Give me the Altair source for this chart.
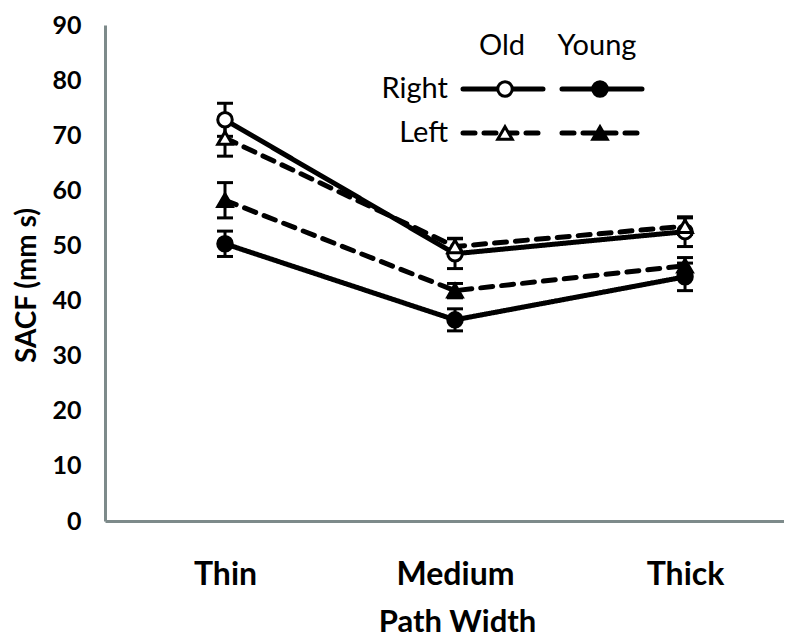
import altair as alt
import pandas as pd

paths = ["Thin", "Medium", "Thick"]
groups = ["Old", "Young"]
sides = ["Right", "Left"]

old_right = [72.8, 48.5, 52.5]
old_right_err = [3.0, 2.7, 2.7]
old_left = [69.5, 49.8, 53.5]
old_left_err = [3.3, 1.5, 1.5]
young_right = [50.3, 36.5, 44.3]
young_right_err = [2.3, 2.0, 2.5]
young_left = [58.2, 41.8, 46.3]
young_left_err = [3.2, 1.3, 1.5]

series = [
    ("Old", "Right", old_right, old_right_err),
    ("Old", "Left", old_left, old_left_err),
    ("Young", "Left", young_left, young_left_err),
    ("Young", "Right", young_right, young_right_err),
]
rows = []
for g, s, vals, errs in series:
    for p, v, e in zip(paths, vals, errs):
        rows.append({"group": g, "side": s, "series": g + " " + s, "path": p,
                     "value": v, "lo": v - e, "hi": v + e})
df = pd.DataFrame(rows)

FONT = "Lato"
AXIS_COLOR = "#7d8a8a"

x_enc = alt.X("path:N", sort=paths,
              scale=alt.Scale(type="point", padding=0.476, align=0.548),
              axis=alt.Axis(title="Path Width", labelAngle=0, ticks=False,
                            labelFont=FONT, labelFontSize=32, labelFontWeight="bold",
                            labelColor="black", labelPadding=38,
                            titleFont=FONT, titleFontSize=31, titleFontWeight="bold",
                            titleColor="black", titleX=352, titleY=110,
                            titleBaseline="alphabetic",
                            domainColor=AXIS_COLOR, domainWidth=3))
y_enc = alt.Y("value:Q", scale=alt.Scale(domain=[0, 90], nice=False),
              axis=alt.Axis(title="SACF (mm s)", values=list(range(0, 91, 10)),
                            ticks=False, grid=False,
                            labelFont=FONT, labelFontSize=25, labelFontWeight="bold",
                            labelColor="black", labelPadding=24,
                            titleFont=FONT, titleFontSize=28, titleFontWeight="bold",
                            titleColor="black", titleAngle=270, titleX=-78, titleY=260,
                            titleBaseline="middle",
                            domainColor=AXIS_COLOR, domainWidth=3))

dash_scale = alt.Scale(domain=sides, range=[[1, 0], [12, 9]])
shape_scale = alt.Scale(domain=sides, range=["circle", "triangle-up"])
fill_scale = alt.Scale(domain=groups, range=["white", "black"])

base = alt.Chart(df)

lines = base.mark_line(color="black", strokeWidth=5, strokeCap="round").encode(
    x=x_enc, y=y_enc, detail="series:N",
    strokeDash=alt.StrokeDash("side:N", scale=dash_scale, legend=None),
)
rules = base.mark_rule(color="black", strokeWidth=3).encode(
    x=alt.X("path:N", sort=paths), y=alt.Y("lo:Q"), y2="hi:Q")
cap_lo = base.mark_tick(color="black", thickness=3, size=16, opacity=1).encode(
    x=alt.X("path:N", sort=paths), y=alt.Y("lo:Q"))
cap_hi = base.mark_tick(color="black", thickness=3, size=16, opacity=1).encode(
    x=alt.X("path:N", sort=paths), y=alt.Y("hi:Q"))
points = base.mark_point(filled=True, size=210, stroke="black", strokeWidth=3,
                         opacity=1).encode(
    x=alt.X("path:N", sort=paths), y=alt.Y("value:Q"),
    shape=alt.Shape("side:N", scale=shape_scale, legend=None),
    fill=alt.Fill("group:N", scale=fill_scale, legend=None),
)

# ---- custom 2x2 legend (pixel layout inside the plot area) ----
one = alt.Chart(pd.DataFrame({"k": [0]}))
leg_col_x = [400, 495]
leg_row_y = [64, 108]
leg_head_y = 21
leg_line_x = [(358, 438), (457, 537)]
leg_fill = ["white", "black"]
leg_shape = ["circle", "triangle-up"]
leg_dash = [[1, 0], [12, 9]]

legend_layers = []
for i, g in enumerate(groups):
    legend_layers.append(one.mark_text(text=g, font=FONT, fontSize=29, color="black",
                                       align="center", baseline="middle").encode(
        x=alt.value(leg_col_x[i] - 3), y=alt.value(leg_head_y)))
for j, s in enumerate(sides):
    legend_layers.append(one.mark_text(text=s, font=FONT, fontSize=29, color="black",
                                       align="right", baseline="middle").encode(
        x=alt.value(343), y=alt.value(leg_row_y[j])))
    for i, g in enumerate(groups):
        legend_layers.append(one.mark_rule(color="black", strokeWidth=5,
                                           strokeCap="round",
                                           strokeDash=leg_dash[j]).encode(
            x=alt.value(leg_line_x[i][0]), x2=alt.value(leg_line_x[i][1]),
            y=alt.value(leg_row_y[j])))
        legend_layers.append(one.mark_point(filled=True, size=210, stroke="black",
                                            strokeWidth=3, opacity=1,
                                            shape=leg_shape[j], fill=leg_fill[i]).encode(
            x=alt.value(leg_col_x[i]), y=alt.value(leg_row_y[j])))

chart = alt.layer(lines, rules, cap_lo, cap_hi, points, *legend_layers).properties(
    width=679, height=496,
    autosize=alt.AutoSizeParams(type="none"),
    padding={"left": 97, "top": 17, "right": 0, "bottom": 120},
).configure_view(stroke=None)

chart.save("out.html", embed_options={"renderer": "svg", "actions": False})
